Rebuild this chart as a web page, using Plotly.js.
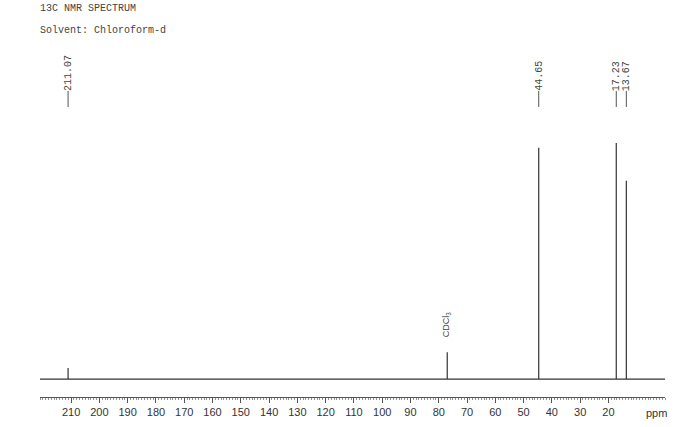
<!DOCTYPE html>
<html>
<head>
<meta charset="utf-8">
<script src="https://cdn.plot.ly/plotly-3.0.1.min.js"></script>
<style>html,body{margin:0;padding:0;background:#fff;}#chart{width:700px;height:427px;}</style>
</head>
<body>
<div id="chart"></div>
<script>
// Peak positions (ppm) and relative intensities
const peakShifts = [211.07, 77.0, 44.65, 17.23, 13.67];
const peakHeights = [4.7, 11.4, 98, 100, 84];
const peakLabels = ["211.07", null, "44.65", "17.23", "13.67"];
const baselineX = [221, 0];
const baselineY = [0, 0];
const tickValues = [210, 200, 190, 180, 170, 160, 150, 140, 130, 120, 110, 100, 90, 80, 70, 60, 50, 40, 30, 20];
const tickTexts = tickValues.map(String);
const solventShift = 77.0;

const lineColor = '#333';
const traces = [{
  x: baselineX, y: baselineY, mode: 'lines', type: 'scatter',
  line: {color: lineColor, width: 1.3}, hoverinfo: 'skip', showlegend: false
}];
peakShifts.forEach((p, i) => {
  traces.push({
    x: [p, p], y: [0, peakHeights[i]], mode: 'lines', type: 'scatter',
    line: {color: lineColor, width: 1.2}, hoverinfo: 'skip', showlegend: false
  });
});

const annotations = [];
const shapes = [];
const monoFont = {family: 'Liberation Mono, DejaVu Sans Mono, monospace', size: 10, color: '#444'};
peakShifts.forEach((p, i) => {
  if (!peakLabels[i]) return;
  annotations.push({
    x: p, xref: 'x', y: 0.9, yref: 'paper', yanchor: 'bottom', xanchor: 'center',
    text: peakLabels[i], textangle: -90, showarrow: false, font: monoFont, yshift: -2
  });
  shapes.push({
    type: 'line', xref: 'x', yref: 'paper', x0: p, x1: p, y0: 0.853, y1: 0.9,
    line: {color: '#555', width: 1}
  });
});
annotations.push({
  x: solventShift, xref: 'x', y: 0.165, yref: 'paper', yanchor: 'bottom', xanchor: 'center',
  text: 'CDCl<sub>3</sub>', textangle: -90, showarrow: false, yshift: 2,
  font: {family: 'Liberation Sans, Arial, sans-serif', size: 9, color: '#444'}
});
annotations.push({
  x: (656 - 40) / 625, xref: 'paper', y: -(413 - 397) / 340, yref: 'paper',
  xanchor: 'center', yanchor: 'middle', text: 'ppm', showarrow: false,
  font: {family: 'Liberation Sans, Arial, sans-serif', size: 11, color: '#333'}
});
// title lines
annotations.push({x: 0, xref: 'paper', xanchor: 'left', y: 1, yref: 'paper', showarrow: false,
  text: '13C NMR SPECTRUM', font: monoFont, yanchor: 'bottom', yshift: 41, xshift: -2});
annotations.push({x: 0, xref: 'paper', xanchor: 'left', y: 1, yref: 'paper', showarrow: false,
  text: 'Solvent: Chloroform-d', font: monoFont, yanchor: 'bottom', yshift: 19, xshift: -2});

const layout = {
  width: 700, height: 427,
  margin: {l: 40, r: 35, t: 57, b: 30},
  paper_bgcolor: '#fff', plot_bgcolor: '#fff',
  xaxis: {
    range: [221, 0], showgrid: false, zeroline: false,
    showline: true, linecolor: '#555', linewidth: 1,
    tickmode: 'array', tickvals: tickValues, ticktext: tickTexts,
    ticks: 'outside', ticklen: 5, tickcolor: '#555', tickwidth: 1,
    tickfont: {family: 'Liberation Sans, Arial, sans-serif', size: 11, color: '#333'},
    minor: {tickmode: 'linear', tick0: 0, dtick: 1, ticks: 'outside', ticklen: 2, tickcolor: '#777', tickwidth: 0.8, showgrid: false}
  },
  yaxis: {range: [-7.6, 136.4], visible: false, fixedrange: true},
  annotations: annotations, shapes: shapes, showlegend: false
};
Plotly.newPlot('chart', traces, layout, {staticPlot: true});
</script>
</body>
</html>
